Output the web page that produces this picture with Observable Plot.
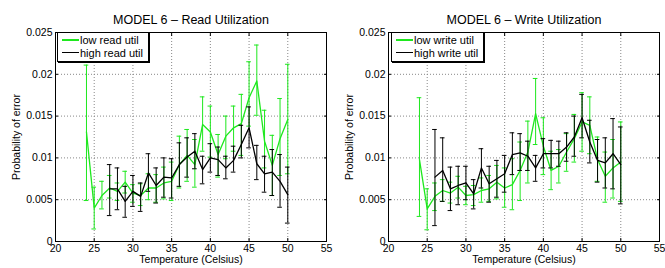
<!DOCTYPE html>
<html><head><meta charset="utf-8">
<script src="https://cdn.jsdelivr.net/npm/d3@7"></script>
<script src="https://cdn.jsdelivr.net/npm/@observablehq/plot@0.6"></script>
<style>
body{margin:0;background:#fff;font-family:"Liberation Sans",Arial,sans-serif;}
#wrap{position:relative;width:665px;height:268px;overflow:hidden;}
.panel{position:absolute;top:0;width:332px;height:268px;}
.legend{position:absolute;top:32px;height:27px;background:#fff;border:1px solid #000;box-shadow:1px 1px 0 #000;font-size:11px;line-height:12px;padding:1px 0 0 4px;box-sizing:content-box;}
.row{white-space:nowrap;height:12.5px;display:flex;align-items:center;}
.sw{display:inline-block;width:17px;margin-right:1px;}
</style>
</head><body>
<div id="wrap">
  <div class="panel" id="p1" style="left:0"></div>
  <div class="panel" id="p2" style="left:333px"></div>
</div>
<script>
// ---- data ----
const xTicks = [20, 25, 30, 35, 40, 45, 50, 55];
const yTicks = [0, 0.005, 0.01, 0.015, 0.02, 0.025];

// Read utilization panel
const readLowT  = [24,25,26,27,28,29,30,31,32,33,34,35,36,37,38,39,40,41,42,43,44,45,46,47,48,49,50];
const readLowP  = [0.0131,0.0040,0.0055,0.0064,0.0060,0.0071,0.0058,0.0055,0.0064,0.0064,0.0070,0.0072,0.0092,0.0103,0.0092,0.0140,0.0131,0.0104,0.0126,0.0136,0.0141,0.0172,0.0192,0.0120,0.0091,0.0123,0.0146];
const readLowLo = [0.0049,0.0015,0.0039,0.0052,0.0049,0.0058,0.0047,0.0043,0.0050,0.0047,0.0051,0.0049,0.0064,0.0072,0.0065,0.0108,0.0101,0.0077,0.0099,0.0108,0.0103,0.0138,0.0151,0.0088,0.0055,0.0079,0.0081];
const readLowHi = [0.0211,0.0065,0.0072,0.0079,0.0070,0.0084,0.0068,0.0069,0.0081,0.0080,0.0089,0.0095,0.0126,0.0134,0.0122,0.0173,0.0162,0.0128,0.0150,0.0162,0.0176,0.0215,0.0235,0.0157,0.0127,0.0171,0.0212];
const readHighT  = [27,28,29,30,31,32,33,34,35,36,37,38,39,40,41,42,43,44,45,46,47,48,49,50];
const readHighP  = [0.0063,0.0063,0.0048,0.0060,0.0054,0.0082,0.0067,0.0077,0.0076,0.0092,0.0101,0.0108,0.0086,0.0100,0.0098,0.0088,0.0097,0.0116,0.0136,0.0093,0.0081,0.0083,0.0072,0.0056];
const readHighLo = [0.0031,0.0038,0.0029,0.0042,0.0036,0.0060,0.0046,0.0053,0.0052,0.0066,0.0077,0.0087,0.0069,0.0083,0.0079,0.0075,0.0083,0.0100,0.0112,0.0074,0.0059,0.0055,0.0041,0.0022];
const readHighHi = [0.0092,0.0088,0.0066,0.0079,0.0070,0.0105,0.0088,0.0100,0.0099,0.0118,0.0124,0.0129,0.0102,0.0117,0.0113,0.0102,0.0114,0.0139,0.0161,0.0115,0.0102,0.0110,0.0104,0.0089];

// Write utilization panel
const writeLowT  = [24,25,26,27,28,29,30,31,32,33,34,35,36,37,38,39,40,41,42,43,44,45,46,47,48,49,50];
const writeLowP  = [0.0098,0.0039,0.0054,0.0061,0.0058,0.0065,0.0055,0.0056,0.0061,0.0063,0.0071,0.0064,0.0068,0.0085,0.0107,0.0153,0.0114,0.0085,0.0090,0.0107,0.0123,0.0143,0.0139,0.0098,0.0078,0.0088,0.0095];
const writeLowLo = [0.0030,0.0014,0.0037,0.0048,0.0046,0.0052,0.0044,0.0043,0.0047,0.0048,0.0051,0.0041,0.0038,0.0049,0.0070,0.0116,0.0080,0.0062,0.0070,0.0084,0.0095,0.0108,0.0105,0.0072,0.0047,0.0052,0.0048];
const writeLowHi = [0.0172,0.0063,0.0070,0.0074,0.0071,0.0078,0.0066,0.0067,0.0076,0.0079,0.0091,0.0088,0.0099,0.0119,0.0144,0.0195,0.0148,0.0108,0.0110,0.0129,0.0152,0.0178,0.0173,0.0125,0.0107,0.0122,0.0143];
const writeHighT  = [26,27,28,29,30,31,32,33,34,35,36,37,38,39,40,41,42,43,44,45,46,47,48,49,50];
const writeHighP  = [0.0077,0.0085,0.0063,0.0067,0.0070,0.0057,0.0088,0.0069,0.0075,0.0081,0.0104,0.0106,0.0102,0.0088,0.0105,0.0105,0.0105,0.0113,0.0125,0.0148,0.0119,0.0097,0.0094,0.0105,0.0092];
const writeHighLo = [0.0019,0.0048,0.0037,0.0044,0.0050,0.0039,0.0064,0.0047,0.0053,0.0059,0.0080,0.0085,0.0085,0.0072,0.0088,0.0088,0.0090,0.0096,0.0102,0.0124,0.0094,0.0071,0.0064,0.0063,0.0045];
const writeHighHi = [0.0134,0.0124,0.0089,0.0090,0.0090,0.0074,0.0111,0.0090,0.0097,0.0103,0.0130,0.0129,0.0120,0.0103,0.0123,0.0121,0.0120,0.0130,0.0150,0.0176,0.0145,0.0122,0.0124,0.0147,0.0137];

const GREEN = "#1ee81e";
const FONT = "'Liberation Sans', Arial, Helvetica, sans-serif";
const CAP = 0.3;

function rows(T, P, L, H) {
  return T.map((t, i) => ({t, p: P[i], lo: L[i], hi: H[i]}));
}

function seriesMarks(data, color) {
  return [
    Plot.ruleX(data, {x: "t", y1: "lo", y2: "hi", stroke: color, strokeWidth: 1}),
    Plot.ruleY(data, {y: "lo", x1: d => d.t - CAP, x2: d => d.t + CAP, stroke: color, strokeWidth: 1}),
    Plot.ruleY(data, {y: "hi", x1: d => d.t - CAP, x2: d => d.t + CAP, stroke: color, strokeWidth: 1}),
    Plot.line(data, {x: "t", y: "p", stroke: color, strokeWidth: 1.3})
  ];
}

function panel(title, low, high) {
  const yfmt = d => d === 0 ? "0" : String(+d.toFixed(3));
  return Plot.plot({
    width: 332, height: 268,
    marginLeft: 55, marginRight: 6, marginTop: 32, marginBottom: 27,
    style: {fontFamily: FONT, fontSize: "10.5px", color: "#000", background: "#fff", overflow: "visible"},
    x: {domain: [20, 55]},
    y: {domain: [0, 0.025]},
    marks: [
      Plot.gridX(xTicks.slice(1, -1), {stroke: "#888", strokeOpacity: 1, strokeDasharray: "1,2"}),
      Plot.gridY(yTicks.slice(1, -1), {stroke: "#888", strokeOpacity: 1, strokeDasharray: "1,2"}),
      Plot.axisX({ticks: xTicks, tickSize: -3, tickPadding: 6, tickFormat: d => String(d),
        label: "Temperature (Celsius)", labelAnchor: "center", labelOffset: 21, labelArrow: "none"}),
      Plot.axisX({anchor: "top", ticks: xTicks, tickSize: -3, tickFormat: () => "", label: null}),
      Plot.axisY({ticks: yTicks, tickSize: -3, tickPadding: 6, tickFormat: yfmt,
        label: "Probability of error", labelAnchor: "center", labelOffset: 43, labelArrow: "none"}),
      Plot.axisY({anchor: "right", ticks: yTicks, tickSize: -3, tickFormat: () => "", label: null}),
      ...seriesMarks(low, GREEN),
      ...seriesMarks(high, "#000"),
      Plot.frame({stroke: "#000"}),
      Plot.text([title], {text: d => d, frameAnchor: "top", dy: -17, fontSize: 12.5, fill: "#000"})
    ]
  });
}

function legend(el, labels, colors, left, width) {
  const div = document.createElement("div");
  div.className = "legend";
  div.style.left = left + "px";
  div.style.width = width + "px";
  labels.forEach((lab, i) => {
    const r = document.createElement("div");
    r.className = "row";
    const sw = document.createElement("span");
    sw.className = "sw";
    sw.style.height = (i === 0 ? 2 : 1) + "px";
    sw.style.background = colors[i];
    r.appendChild(sw);
    r.appendChild(document.createTextNode(lab));
    div.appendChild(r);
  });
  el.appendChild(div);
}

const p1 = document.getElementById("p1");
const p2 = document.getElementById("p2");
p1.appendChild(panel("MODEL 6 \u2013 Read Utilization",
  rows(readLowT, readLowP, readLowLo, readLowHi),
  rows(readHighT, readHighP, readHighLo, readHighHi)));
p2.appendChild(panel("MODEL 6 \u2013 Write Utilization",
  rows(writeLowT, writeLowP, writeLowLo, writeLowHi),
  rows(writeHighT, writeHighP, writeHighLo, writeHighHi)));
legend(p1, ["low read util", "high read util"], [GREEN, "#000"], 57, 86);
legend(p2, ["low write util", "high write util"], [GREEN, "#000"], 58, 87);
</script>
</body></html>
